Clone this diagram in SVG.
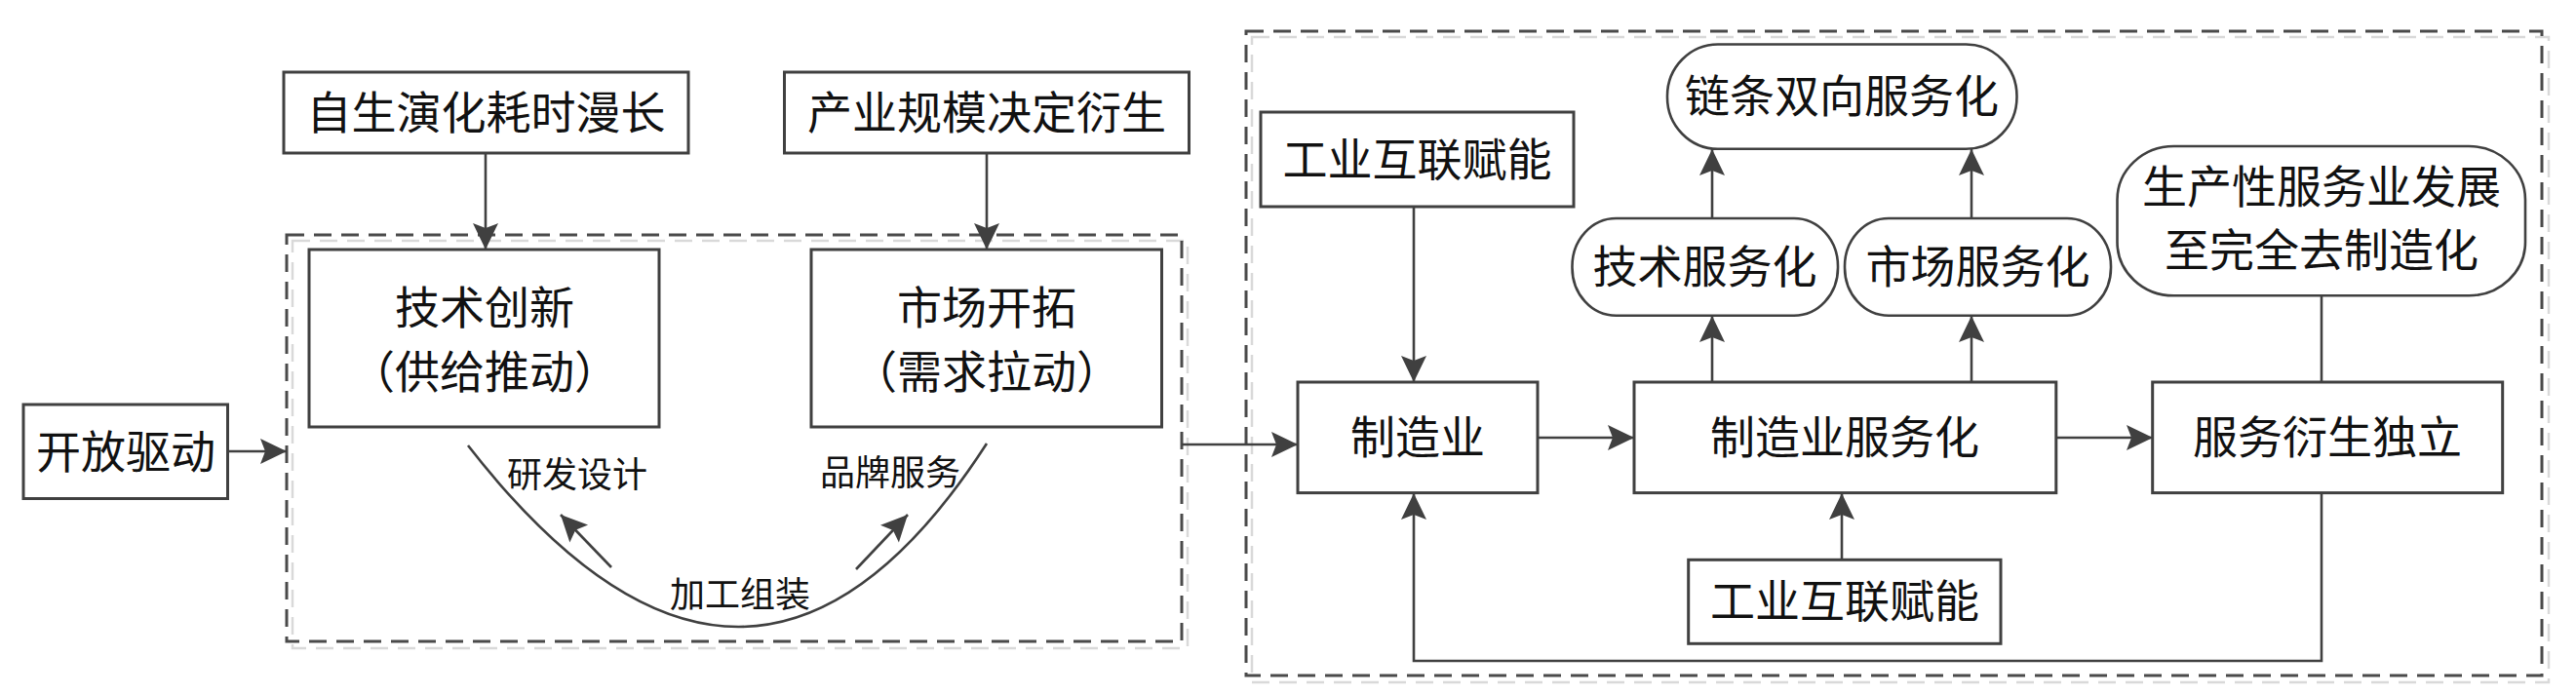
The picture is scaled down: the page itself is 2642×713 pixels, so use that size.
<svg xmlns="http://www.w3.org/2000/svg" width="2642" height="713" viewBox="0 0 2642 713">
<style>
.box{fill:#fff;stroke:#404040;stroke-width:3}
.pill{fill:#fff;stroke:#404040;stroke-width:2.6}
.dash{fill:none;stroke:#4a4a4a;stroke-width:3;stroke-dasharray:18 10}
.dashl{fill:none;stroke:#d9d9d9;stroke-width:2.5;stroke-dasharray:18 10}
.ln{fill:none;stroke:#404040;stroke-width:2.6}
.t{font-family:"Noto Sans CJK SC","Noto Sans CJK JP",sans-serif;font-size:46px;fill:#111;text-anchor:middle}
.s{font-family:"Noto Sans CJK SC","Noto Sans CJK JP",sans-serif;font-size:36px;fill:#111}
</style>
<defs>
<marker id="ah" viewBox="-28 -14 30 28" refX="0" refY="0" markerWidth="30" markerHeight="28" markerUnits="userSpaceOnUse" orient="auto">
<path d="M0,0 L-27,-13 L-22,0 L-27,13 Z" fill="#404040"/>
</marker>
</defs>

<g id="frames">
<rect class="dashl" x="300" y="247" width="918" height="418"/>
<rect class="dash" x="294" y="241" width="918" height="417"/>
<rect class="dashl" x="1284" y="38" width="1330" height="662"/>
<rect class="dash" x="1278" y="32" width="1329" height="661"/>
</g>

<g id="connectors">
<line class="ln" x1="498" y1="157" x2="498" y2="256" marker-end="url(#ah)"/>
<line class="ln" x1="1012" y1="157" x2="1012" y2="256" marker-end="url(#ah)"/>
<line class="ln" x1="234" y1="463" x2="294" y2="463" marker-end="url(#ah)"/>
<path class="ln" d="M480,457 Q770,830 1012,455"/>
<line class="ln" x1="627" y1="582" x2="575" y2="528" marker-end="url(#ah)"/>
<line class="ln" x1="878" y1="584" x2="931" y2="528" marker-end="url(#ah)"/>
<line class="ln" x1="1212" y1="456" x2="1331" y2="456" marker-end="url(#ah)"/>
<line class="ln" x1="1450" y1="212" x2="1450" y2="392" marker-end="url(#ah)"/>
<line class="ln" x1="1577" y1="449" x2="1676" y2="449" marker-end="url(#ah)"/>
<line class="ln" x1="2109" y1="449" x2="2208" y2="449" marker-end="url(#ah)"/>
<line class="ln" x1="1756" y1="392" x2="1756" y2="324" marker-end="url(#ah)"/>
<line class="ln" x1="2022" y1="392" x2="2022" y2="324" marker-end="url(#ah)"/>
<line class="ln" x1="1756" y1="224" x2="1756" y2="153" marker-end="url(#ah)"/>
<line class="ln" x1="2022" y1="224" x2="2022" y2="153" marker-end="url(#ah)"/>
<line class="ln" x1="1889" y1="574" x2="1889" y2="506" marker-end="url(#ah)"/>
<line class="ln" x1="2381" y1="303" x2="2381" y2="392"/>
<polyline class="ln" points="2381,506 2381,678 1450,678 1450,506" marker-end="url(#ah)"/>
</g>

<g id="n-zisheng">
<rect class="box" x="291" y="74" width="415" height="83"/>
<text class="t" x="498.5" y="132">自生演化耗时漫长</text>
</g>
<g id="n-chanye">
<rect class="box" x="804.5" y="74" width="415" height="83"/>
<text class="t" x="1012" y="132">产业规模决定衍生</text>
</g>
<g id="n-jishu">
<rect class="box" x="317" y="256" width="359" height="182"/>
<text class="t" x="497" y="332">技术创新</text>
<text class="t" x="497" y="398">（供给推动）</text>
</g>
<g id="n-shichang">
<rect class="box" x="832" y="256" width="359.5" height="182"/>
<text class="t" x="1012" y="332">市场开拓</text>
<text class="t" x="1012" y="398">（需求拉动）</text>
</g>
<g id="n-kaifang">
<rect class="box" x="24" y="415" width="209.5" height="96.5"/>
<text class="t" x="129" y="480">开放驱动</text>
</g>
<g id="curve-labels">
<text class="s" x="520" y="500">研发设计</text>
<text class="s" x="841" y="498">品牌服务</text>
<text class="s" x="687" y="623">加工组装</text>
</g>
<g id="n-gongye-top">
<rect class="box" x="1293" y="115" width="321" height="97"/>
<text class="t" x="1453.5" y="180">工业互联赋能</text>
</g>
<g id="n-zhizao">
<rect class="box" x="1331" y="392" width="246" height="113.6"/>
<text class="t" x="1454" y="465">制造业</text>
</g>
<g id="n-fuwuhua">
<rect class="box" x="1676" y="392" width="432.8" height="113.6"/>
<text class="t" x="1892" y="465">制造业服务化</text>
</g>
<g id="n-duli">
<rect class="box" x="2207.7" y="392" width="359" height="113.6"/>
<text class="t" x="2387" y="465">服务衍生独立</text>
</g>
<g id="n-jishufw">
<rect class="pill" x="1612.5" y="224" width="272.5" height="99.7" rx="45" ry="49"/>
<text class="t" x="1748.6" y="290">技术服务化</text>
</g>
<g id="n-shichangfw">
<rect class="pill" x="1892" y="224" width="273" height="99.7" rx="45" ry="49"/>
<text class="t" x="2028.5" y="290">市场服务化</text>
</g>
<g id="n-lian">
<rect class="pill" x="1710" y="45.5" width="358.5" height="107.3" rx="52" ry="53"/>
<text class="t" x="1889" y="115">链条双向服务化</text>
</g>
<g id="n-shengchan">
<rect class="pill" x="2171.5" y="150" width="418.5" height="153.3" rx="58" ry="55"/>
<text class="t" x="2381" y="208">生产性服务业发展</text>
<text class="t" x="2381" y="273">至完全去制造化</text>
</g>
<g id="n-gongye-bottom">
<rect class="box" x="1731.7" y="574.3" width="320.3" height="86"/>
<text class="t" x="1892" y="633">工业互联赋能</text>
</g>
</svg>
